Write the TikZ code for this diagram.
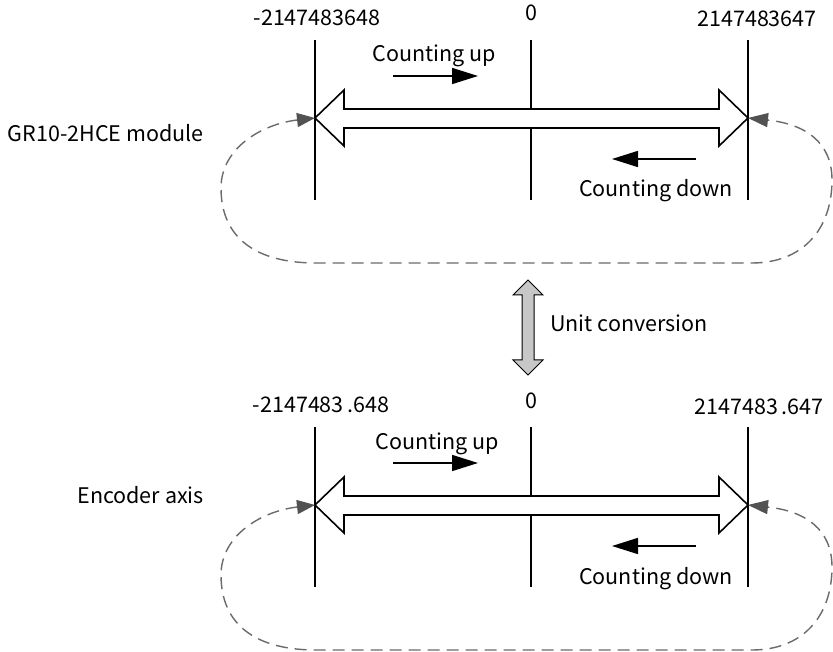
\documentclass[tikz,border=0pt]{standalone}
\usepackage{fontspec}
\setmainfont{Noto Sans CJK SC}
\usetikzlibrary{arrows.meta}
\tikzset{
  axisline/.style={line width=1.6pt, draw=black},
  bigarrow/.style={draw=black, line width=1.6pt, fill=white, line join=miter},
  smallarrow/.style={line width=1.6pt, draw=black, -{Triangle[length=26pt,width=16pt]}},
  looppath/.style={draw=black!58, line width=1.4pt, dash pattern=on 12pt off 7pt,
     {Triangle[length=18pt,width=14pt,fill=black!68,color=black!68]}-{Triangle[length=20pt,width=14pt,fill=black!68,color=black!68]}},
  lbl/.style={font=\fontsize{21.5}{26}\selectfont, inner sep=0pt, text=black},
  convarrow/.style={draw=black, line width=1pt, fill=black!22, line join=miter}
}
\newcommand\mypanel[7]{% #1 prefix, #2 dy, #3 left label, #4 right label, #5 left label x, #6 right label x, #7 up label x
\begin{scope}[shift={(0,#2)}]
  \coordinate (#1Lt) at (315,40);  \coordinate (#1Lb) at (315,200);
  \coordinate (#1Mt) at (531,40);  \coordinate (#1Mb) at (531,200);
  \coordinate (#1Rt) at (748,40);  \coordinate (#1Rb) at (748,200);
  \coordinate (#1Ltip) at (315,118);
  \coordinate (#1Rtip) at (748,118);
  \draw[axisline] (#1Lt) -- (#1Lb);
  \draw[axisline] (#1Mt) -- (#1Mb);
  \draw[axisline] (#1Rt) -- (#1Rb);
  \draw[bigarrow] (#1Ltip) -- (344,90) -- (344,109) -- (719,109) -- (719,90) -- (#1Rtip)
     -- (719,146) -- (719,128) -- (344,128) -- (344,146) -- cycle;
  \draw[looppath] (#1Ltip) .. controls (262,124) and (221,148) .. (221,188)
     .. controls (221,238) and (256,263) .. (316,263) -- (752,263)
     .. controls (802,263) and (832,230) .. (832,180)
     .. controls (832,142) and (805,124) .. (#1Rtip);
  \coordinate (#1ua) at (393,76); \coordinate (#1ub) at (478,76);
  \coordinate (#1da) at (696,159); \coordinate (#1db) at (612,159);
  \draw[smallarrow] (#1ua) -- (#1ub);
  \draw[smallarrow] (#1da) -- (#1db);
  \node[lbl, anchor=base] (#1lo) at (#5,26) {#3};
  \node[lbl, anchor=base] (#1zero) at (531,21) {0};
  \node[lbl, anchor=base] (#1hi) at (#6,27) {#4};
  \node[lbl, anchor=base] (#1up) at (#7,62) {Counting up};
  \node[lbl, anchor=base] (#1down) at (656,197) {Counting down};
\end{scope}
}
\begin{document}
\begin{tikzpicture}[x=1pt,y=-1pt]
\useasboundingbox (0,0) rectangle (833,652);
\fill[white] (0,0) rectangle (833,652);
\mypanel{t}{0}{-2147483648}{2147483647}{317}{757}{434}
\mypanel{b}{387}{-2147483\,.648}{2147483\,.647}{321}{759}{437}
\node[lbl, anchor=base east] (tside) at (204,142) {GR10-2HCE module};
\node[lbl, anchor=base east] (bside) at (204,503) {Encoder axis};
\coordinate (ctop) at (528,280);
\coordinate (cbot) at (528,375);
\draw[convarrow] (ctop) -- (543,295) -- (534,295) -- (534,360) -- (543,360) -- (cbot)
   -- (513,360) -- (522,360) -- (522,295) -- (513,295) -- cycle;
\node[lbl, anchor=base west] (conv) at (550,332) {Unit conversion};
\end{tikzpicture}
\end{document}
